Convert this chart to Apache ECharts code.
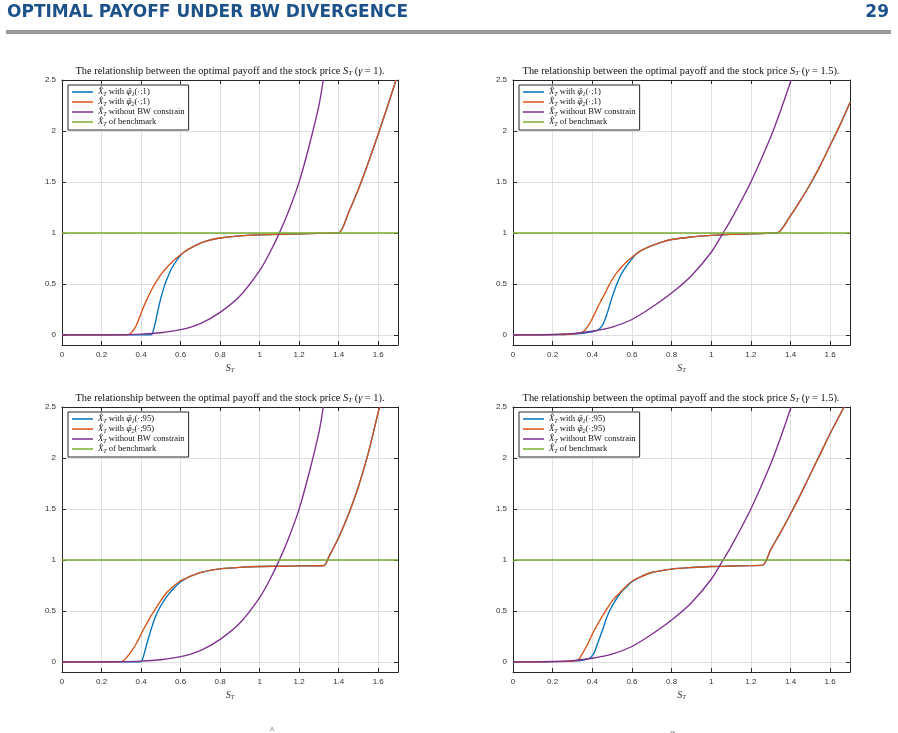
<!DOCTYPE html>
<html>
<head>
<meta charset="utf-8">
<script src="https://cdn.jsdelivr.net/npm/echarts@6/dist/echarts.min.js"></script>
<style>
html,body{margin:0;padding:0;background:#fff;}
#main{width:898px;height:733px;}
</style>
</head>
<body>
<div id="main"></div>
<script>
// ---------- DATA ----------
const xTicks = [0, 0.2, 0.4, 0.6, 0.8, 1, 1.2, 1.4, 1.6];
const yTicks = [0, 0.5, 1, 1.5, 2, 2.5];

// Panel A: gamma = 1, phi(.;1)
const sBlueA   = [0, 0.45, 0.46, 0.47, 0.48, 0.49, 0.5, 0.52, 0.54, 0.56, 0.58, 0.6, 0.62, 0.65, 0.7, 0.75, 0.8, 0.9, 1.0, 1.1, 1.2, 1.3, 1.4, 1.45, 1.5, 1.55, 1.6, 1.65, 1.69];
const yBlueA   = [0, 0, 0.03, 0.1, 0.19, 0.28, 0.36, 0.49, 0.59, 0.67, 0.73, 0.78, 0.815, 0.85, 0.9, 0.93, 0.95, 0.97, 0.98, 0.986, 0.99, 0.995, 1.0, 1.2, 1.43, 1.69, 1.97, 2.26, 2.5];
const sOrangeA = [0, 0.33, 0.35, 0.37, 0.39, 0.41, 0.43, 0.45, 0.47, 0.5, 0.53, 0.56, 0.6, 0.62, 0.65, 0.7, 0.75, 0.8, 0.9, 1.0, 1.1, 1.2, 1.3, 1.4, 1.45, 1.5, 1.55, 1.6, 1.65, 1.69];
const yOrangeA = [0, 0, 0.02, 0.07, 0.16, 0.26, 0.35, 0.43, 0.5, 0.59, 0.66, 0.72, 0.785, 0.815, 0.85, 0.9, 0.93, 0.95, 0.97, 0.98, 0.986, 0.99, 0.995, 1.0, 1.2, 1.43, 1.69, 1.97, 2.26, 2.5];

// Panel B: gamma = 1.5, phi(.;1)
const sBlueB   = [0, 0.2, 0.3, 0.35, 0.4, 0.43, 0.45, 0.46, 0.47, 0.48, 0.5, 0.52, 0.54, 0.56, 0.59, 0.62, 0.65, 0.7, 0.75, 0.8, 0.9, 1.0, 1.1, 1.2, 1.3, 1.335, 1.4, 1.45, 1.5, 1.55, 1.6, 1.65, 1.7];
const yBlueB   = [0, 0.002, 0.008, 0.015, 0.028, 0.05, 0.09, 0.13, 0.18, 0.24, 0.37, 0.48, 0.57, 0.64, 0.72, 0.79, 0.83, 0.875, 0.91, 0.935, 0.96, 0.975, 0.985, 0.99, 0.997, 1.0, 1.17, 1.32, 1.48, 1.66, 1.86, 2.06, 2.28];
const sOrangeB = [0, 0.2, 0.3, 0.34, 0.36, 0.38, 0.4, 0.42, 0.44, 0.46, 0.48, 0.5, 0.52, 0.55, 0.58, 0.62, 0.65, 0.7, 0.75, 0.8, 0.9, 1.0, 1.1, 1.2, 1.3, 1.335, 1.4, 1.45, 1.5, 1.55, 1.6, 1.65, 1.7];
const yOrangeB = [0, 0.002, 0.008, 0.018, 0.04, 0.09, 0.16, 0.24, 0.32, 0.39, 0.47, 0.54, 0.6, 0.67, 0.73, 0.79, 0.83, 0.875, 0.91, 0.935, 0.96, 0.975, 0.985, 0.99, 0.997, 1.0, 1.17, 1.32, 1.48, 1.66, 1.86, 2.06, 2.28];

// Panel C: gamma = 1, phi(.;95)
const sBlueC   = [0, 0.4, 0.41, 0.42, 0.43, 0.445, 0.47, 0.5, 0.53, 0.56, 0.6, 0.63, 0.65, 0.7, 0.75, 0.8, 0.9, 1.0, 1.1, 1.2, 1.326, 1.35, 1.4, 1.45, 1.5, 1.55, 1.6, 1.607];
const yBlueC   = [0, 0, 0.04, 0.11, 0.18, 0.28, 0.43, 0.55, 0.64, 0.71, 0.785, 0.82, 0.84, 0.876, 0.897, 0.912, 0.926, 0.935, 0.938, 0.941, 0.945, 1.03, 1.22, 1.45, 1.72, 2.05, 2.45, 2.5];
const sOrangeC = [0, 0.29, 0.31, 0.33, 0.35, 0.37, 0.39, 0.41, 0.43, 0.45, 0.47, 0.5, 0.53, 0.56, 0.6, 0.63, 0.65, 0.7, 0.75, 0.8, 0.9, 1.0, 1.1, 1.2, 1.326, 1.35, 1.4, 1.45, 1.5, 1.55, 1.6, 1.607];
const yOrangeC = [0, 0, 0.01, 0.05, 0.1, 0.16, 0.23, 0.31, 0.38, 0.45, 0.51, 0.6, 0.68, 0.735, 0.795, 0.82, 0.84, 0.876, 0.897, 0.912, 0.926, 0.935, 0.938, 0.941, 0.945, 1.03, 1.22, 1.45, 1.72, 2.05, 2.45, 2.5];

// Panel D: gamma = 1.5, phi(.;95)
const sBlueD   = [0, 0.2, 0.3, 0.35, 0.39, 0.41, 0.425, 0.44, 0.455, 0.47, 0.49, 0.51, 0.54, 0.57, 0.6, 0.64, 0.7, 0.8, 0.9, 1.0, 1.1, 1.2, 1.26, 1.3, 1.35, 1.4, 1.45, 1.5, 1.55, 1.6, 1.67];
const yBlueD   = [0, 0.002, 0.006, 0.015, 0.04, 0.09, 0.17, 0.25, 0.33, 0.42, 0.51, 0.58, 0.67, 0.73, 0.785, 0.83, 0.876, 0.91, 0.925, 0.935, 0.94, 0.944, 0.948, 1.1, 1.27, 1.45, 1.64, 1.84, 2.04, 2.24, 2.5];
const sOrangeD = [0, 0.2, 0.3, 0.33, 0.35, 0.37, 0.39, 0.41, 0.43, 0.45, 0.48, 0.51, 0.54, 0.57, 0.6, 0.64, 0.7, 0.8, 0.9, 1.0, 1.1, 1.2, 1.26, 1.3, 1.35, 1.4, 1.45, 1.5, 1.55, 1.6, 1.67];
const yOrangeD = [0, 0.002, 0.006, 0.02, 0.08, 0.15, 0.23, 0.31, 0.38, 0.445, 0.54, 0.62, 0.68, 0.74, 0.79, 0.83, 0.876, 0.91, 0.925, 0.935, 0.94, 0.944, 0.948, 1.1, 1.27, 1.45, 1.64, 1.84, 2.04, 2.24, 2.5];

// Unconstrained payoff
const sPurpleG1  = [0, 0.2, 0.3, 0.4, 0.5, 0.6, 0.7, 0.8, 0.9, 1.0, 1.05, 1.1, 1.15, 1.2, 1.25, 1.3, 1.322];
const yPurpleG1  = [0, 0, 0.002, 0.007, 0.02, 0.05, 0.11, 0.22, 0.38, 0.63, 0.8, 1.0, 1.23, 1.5, 1.85, 2.25, 2.5];
const sPurpleG15 = [0, 0.1, 0.2, 0.3, 0.4, 0.5, 0.6, 0.7, 0.8, 0.9, 1.0, 1.06, 1.1, 1.2, 1.3, 1.35, 1.403];
const yPurpleG15 = [0, 0, 0.003, 0.012, 0.035, 0.075, 0.15, 0.27, 0.41, 0.58, 0.81, 1.0, 1.13, 1.5, 1.94, 2.2, 2.5];

// Benchmark
const sGreen = [0, 1.7];
const yGreen = [1, 1];

const titles = [
  'The relationship between the optimal payoff and the stock price {it|S}{sub|T} ({it|γ} = 1).',
  'The relationship between the optimal payoff and the stock price {it|S}{sub|T} ({it|γ} = 1.5).',
  'The relationship between the optimal payoff and the stock price {it|S}{sub|T} ({it|γ} = 1).',
  'The relationship between the optimal payoff and the stock price {it|S}{sub|T} ({it|γ} = 1.5).'
];
const legendLabels = {
  'b1': '{it|X\u0302}{sub|T} with {ph|φ\u0303}{sub|1}(·;1)',
  'o1': '{it|X\u0302}{sub|T} with {ph|φ\u0303}{sub|2}(·;1)',
  'b95': '{it|X\u0302}{sub|T} with {ph|φ\u0303}{sub|1}(·;95)',
  'o95': '{it|X\u0302}{sub|T} with {ph|φ\u0303}{sub|2}(·;95)',
  'p': '{it|X\u0302}{sub|T} without BW constrain',
  'g': '{it|X\u0302}{sub|T} of benchmark'
};

// ---------- BUILD ----------
const zip = (s, y) => s.map((v, i) => [v, y[i]]);
const C = {blue:'#0072BD', orange:'#D95319', purple:'#7E2F8E', green:'#77AC30'};
const AX = '#262626';
const serif = 'Liberation Serif';
const sans = 'Liberation Sans';

const panels = [
  {grid:{left:62, top:80, width:336, height:265}, blue:zip(sBlueA,yBlueA), orange:zip(sOrangeA,yOrangeA), purple:zip(sPurpleG1,yPurpleG1), bn:'b1', on:'o1', cx:230, ty:71},
  {grid:{left:513, top:80, width:337, height:265}, blue:zip(sBlueB,yBlueB), orange:zip(sOrangeB,yOrangeB), purple:zip(sPurpleG15,yPurpleG15), bn:'b1', on:'o1', cx:681, ty:71},
  {grid:{left:62, top:407, width:336, height:265}, blue:zip(sBlueC,yBlueC), orange:zip(sOrangeC,yOrangeC), purple:zip(sPurpleG1,yPurpleG1), bn:'b95', on:'o95', cx:230, ty:398},
  {grid:{left:513, top:407, width:337, height:265}, blue:zip(sBlueD,yBlueD), orange:zip(sOrangeD,yOrangeD), purple:zip(sPurpleG15,yPurpleG15), bn:'b95', on:'o95', cx:681, ty:398}
];

const LFS = 8.6;
const richSmall = {
  it: {fontStyle:'italic', fontFamily:serif, fontSize:LFS, color:'#111'},
  ph: {fontStyle:'italic', fontFamily:'DejaVu Serif', fontSize:LFS - 1, color:'#111'},
  sub: {fontStyle:'italic', fontFamily:serif, fontSize:6, color:'#111', verticalAlign:'bottom', padding:[3,0,0,0]}
};

const grid = [], xAxis = [], yAxis = [], series = [], legend = [], graphic = [];
panels.forEach((p, i) => {
  grid.push(Object.assign({show:false, containLabel:false}, p.grid));
  // bottom x
  xAxis.push({
    type:'value', gridIndex:i, min:0, max:1.7, interval:0.2, position:'bottom',
    axisLine:{show:true, onZero:false, lineStyle:{color:AX, width:1}},
    axisTick:{show:true, inside:true, length:4, lineStyle:{color:AX}},
    axisLabel:{show:true, margin:6, fontSize:8, color:'#333', fontFamily:sans, showMaxLabel:false,
      formatter: v => (xTicks.some(t => Math.abs(t - v) < 1e-9) ? String(+v.toFixed(1)) : '')},
    splitLine:{show:true, lineStyle:{color:'#e0e0e0', width:1}},
    name:'{it|S}{sub|T}', nameLocation:'middle', nameGap:18,
    nameTextStyle:{fontFamily:serif, fontSize:10, color:'#333', rich:{
      it:{fontStyle:'italic', fontFamily:serif, fontSize:10, color:'#333'},
      sub:{fontStyle:'italic', fontFamily:serif, fontSize:6.5, color:'#333', verticalAlign:'bottom', padding:[4,0,0,0]}}}
  });
  // top x (box + ticks)
  xAxis.push({
    type:'value', gridIndex:i, min:0, max:1.7, interval:0.2, position:'top',
    axisLine:{show:true, onZero:false, lineStyle:{color:AX, width:1}},
    axisTick:{show:true, inside:true, length:4, lineStyle:{color:AX}},
    axisLabel:{show:false}, splitLine:{show:false}
  });
  // left y
  yAxis.push({
    type:'value', gridIndex:i, min:-0.1, max:2.5, splitNumber:5, position:'left',
    axisLine:{show:true, onZero:false, lineStyle:{color:AX, width:1}},
    axisTick:{show:true, inside:true, length:4, lineStyle:{color:AX}},
    axisLabel:{show:true, margin:6, fontSize:8, color:'#333', fontFamily:sans, showMinLabel:false,
      formatter: v => (yTicks.some(t => Math.abs(t - v) < 1e-9) ? String(v) : '')},
    splitLine:{show:true, lineStyle:{color:'#e0e0e0', width:1}}
  });
  // right y
  yAxis.push({
    type:'value', gridIndex:i, min:-0.1, max:2.5, splitNumber:5, position:'right',
    axisLine:{show:true, onZero:false, lineStyle:{color:AX, width:1}},
    axisTick:{show:true, inside:true, length:4, lineStyle:{color:AX}},
    axisLabel:{show:false}, splitLine:{show:false}
  });
  const base = {type:'line', xAxisIndex:2*i, yAxisIndex:2*i, symbol:'none', smooth:0.25, animation:false, silent:true};
  series.push(Object.assign({}, base, {name:p.bn, data:p.blue, lineStyle:{color:C.blue, width:1.35}, itemStyle:{color:C.blue}}));
  series.push(Object.assign({}, base, {name:p.on, data:p.orange, lineStyle:{color:C.orange, width:1.35}, itemStyle:{color:C.orange}}));
  series.push(Object.assign({}, base, {name:'p', data:p.purple, lineStyle:{color:C.purple, width:1.35}, itemStyle:{color:C.purple}}));
  series.push(Object.assign({}, base, {name:'g', data:zip(sGreen,yGreen), smooth:false, lineStyle:{color:C.green, width:1.5}, itemStyle:{color:C.green}}));

  legend.push({
    data:[p.bn, p.on, 'p', 'g'], orient:'vertical', selectedMode:false,
    icon:'rect', itemWidth:21, itemHeight:1.5, itemGap:0,
    left:p.grid.left + 6, top:p.grid.top + 5,
    backgroundColor:'#fff', borderColor:AX, borderWidth:1, borderRadius:0,
    padding:[2,4,3,4],
    formatter: n => legendLabels[n],
    textStyle:{fontFamily:serif, fontSize:LFS, color:'#111', lineHeight:10, rich:richSmall}
  });

  graphic.push({
    type:'text', x:p.cx, y:p.ty, silent:true,
    style:{text:titles[i], fontFamily:serif, fontSize:10.4, fill:'#111', align:'center', verticalAlign:'middle',
      rich:{it:{fontStyle:'italic', fontFamily:serif, fontSize:10.4, fill:'#111'},
            sub:{fontStyle:'italic', fontFamily:serif, fontSize:7, fill:'#111', verticalAlign:'bottom', padding:[4,0,0,0]}}}
  });
});

// page header
graphic.push({type:'text', x:7, y:13, silent:true, style:{text:'OPTIMAL PAYOFF UNDER BW DIVERGENCE', fontFamily:'DejaVu Sans', fontWeight:'bold', fontSize:17, fill:'#1d5189', verticalAlign:'middle'}});
graphic.push({type:'text', x:889, y:13, silent:true, style:{text:'29', fontFamily:'DejaVu Sans', fontWeight:'bold', fontSize:17, fill:'#1d5189', align:'right', verticalAlign:'middle'}});
graphic.push({type:'rect', silent:true, shape:{x:6, y:30, width:885, height:4}, style:{fill:'#999999'}});
// fragments of the next text line at the bottom edge
graphic.push({type:'text', x:272, y:735, silent:true, style:{text:'^', fontFamily:serif, fontSize:9, fill:'#222', align:'center', verticalAlign:'bottom'}});
graphic.push({type:'text', x:673, y:737, silent:true, style:{text:'~', fontFamily:serif, fontSize:9, fill:'#222', align:'center', verticalAlign:'bottom'}});

const chart = echarts.init(document.getElementById('main'), null, {renderer:'canvas'});
chart.setOption({
  animation:false,
  backgroundColor:'#fff',
  grid, xAxis, yAxis, series, legend, graphic
});
</script>
</body>
</html>
